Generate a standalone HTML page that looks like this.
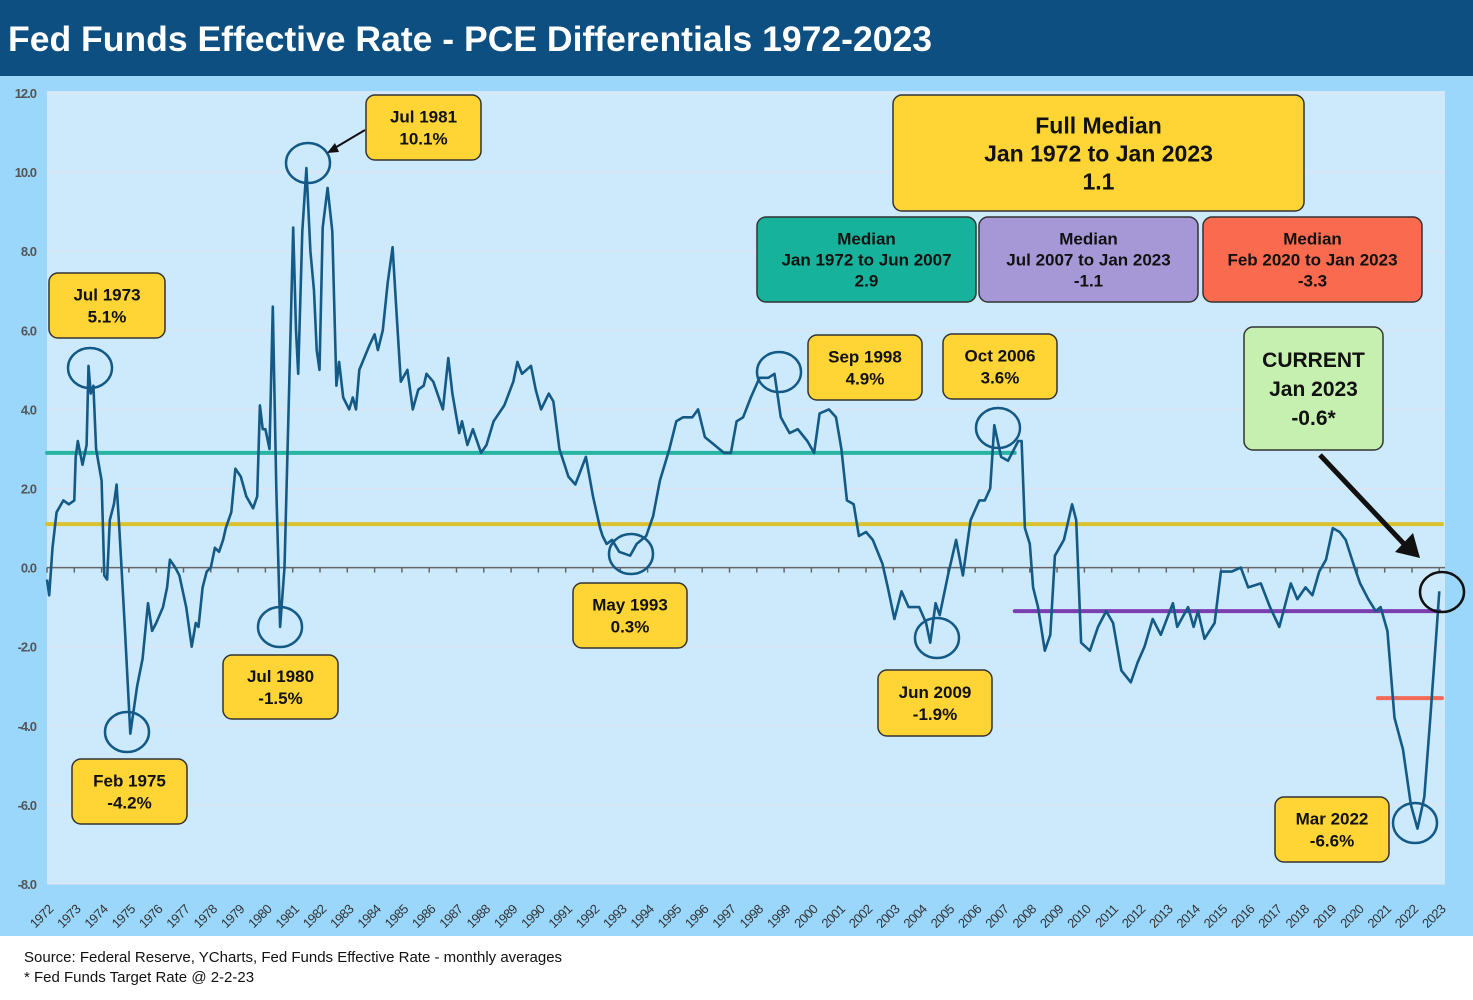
<!DOCTYPE html>
<html><head><meta charset="utf-8">
<style>
body{margin:0;width:1473px;height:1000px;overflow:hidden;background:#fff;font-family:"Liberation Sans",Arial,sans-serif;}
svg{display:block}
</style></head>
<body>
<svg id="c" width="1473" height="1000" xmlns="http://www.w3.org/2000/svg">
<rect x="0" y="0" width="1473" height="76" fill="#0d4f80"/>
<text x="8" y="51" fill="#fff" font-size="35" font-weight="bold" textLength="924" lengthAdjust="spacingAndGlyphs">Fed Funds Effective Rate - PCE Differentials 1972-2023</text>
<rect x="0" y="76" width="1473" height="860" fill="#9bd6fb"/>
<rect x="47" y="91" width="1398" height="793" fill="#cdeafc"/>
<g id="grid"></g><g id="yaxis"></g><g id="xaxis"></g><g id="medians"></g><g id="series"></g><g id="ann"></g>
<text x="24" y="962" font-size="15" fill="#111">Source: Federal Reserve, YCharts, Fed Funds Effective Rate - monthly averages</text>
<text x="24" y="982" font-size="15" fill="#111">* Fed Funds Target Rate @ 2-2-23</text>
</svg>
<script>
const yTicks=[12,10,8,6,4,2,0,-2,-4,-6,-8];
const years=[];for(let y=1972;y<=2023;y++)years.push(y);
const medianLabels=["Full","1972-2007","2007-2023","2020-2023"];
const medianValues=[1.1,2.9,-1.1,-3.3];
const medianStart=[1972,1972,2007.45,2020.75];
const medianEnd=[2023.1,2007.45,2023.0,2023.1];
const dates=[1972.0,1972.08,1972.2,1972.35,1972.6,1972.8,1973.0,1973.05,1973.13,1973.3,1973.45,1973.52,1973.6,1973.7,1973.8,1974.0,1974.1,1974.2,1974.3,1974.45,1974.55,1974.65,1974.85,1975.0,1975.05,1975.3,1975.5,1975.7,1975.85,1976.0,1976.25,1976.4,1976.5,1976.7,1976.85,1977.1,1977.3,1977.45,1977.55,1977.7,1977.85,1978.0,1978.15,1978.3,1978.45,1978.55,1978.75,1978.9,1979.1,1979.3,1979.55,1979.7,1979.8,1979.9,1980.0,1980.15,1980.27,1980.4,1980.54,1980.7,1980.85,1981.02,1981.12,1981.2,1981.35,1981.5,1981.65,1981.78,1981.88,1981.98,1982.1,1982.28,1982.45,1982.6,1982.7,1982.85,1983.07,1983.2,1983.32,1983.44,1983.62,1983.8,1984.0,1984.12,1984.3,1984.48,1984.66,1984.8,1984.96,1985.2,1985.4,1985.6,1985.8,1985.9,1986.15,1986.5,1986.7,1986.85,1987.1,1987.2,1987.4,1987.6,1987.9,1988.1,1988.36,1988.75,1989.08,1989.23,1989.4,1989.73,1989.9,1990.1,1990.38,1990.55,1990.77,1990.96,1991.1,1991.35,1991.74,1992.0,1992.26,1992.35,1992.5,1992.7,1992.96,1993.36,1993.6,1993.95,1994.2,1994.45,1994.8,1995.05,1995.3,1995.64,1995.85,1996.1,1996.45,1996.8,1997.05,1997.26,1997.5,1997.78,1998.1,1998.42,1998.65,1998.88,1999.2,1999.5,1999.85,2000.1,2000.3,2000.64,2000.9,2001.1,2001.3,2001.55,2001.74,2002.0,2002.25,2002.6,2002.8,2003.04,2003.3,2003.56,2003.95,2004.2,2004.35,2004.55,2004.7,2005.0,2005.3,2005.55,2005.83,2006.15,2006.35,2006.55,2006.7,2006.95,2007.2,2007.58,2007.7,2007.82,2008.0,2008.12,2008.3,2008.55,2008.75,2008.92,2009.25,2009.55,2009.7,2009.88,2010.2,2010.5,2010.8,2011.05,2011.35,2011.7,2011.95,2012.2,2012.5,2012.8,2013.24,2013.4,2013.8,2014.0,2014.16,2014.4,2014.77,2015.0,2015.4,2015.73,2016.0,2016.46,2016.8,2017.14,2017.56,2017.8,2018.1,2018.35,2018.6,2018.85,2019.1,2019.35,2019.57,2019.85,2020.1,2020.4,2020.67,2020.85,2021.1,2021.36,2021.67,2021.96,2022.2,2022.45,2022.68,2022.88,2023.0];
const values=[-0.3,-0.7,0.5,1.4,1.7,1.6,1.7,2.8,3.2,2.6,3.1,5.1,4.4,4.6,3.0,2.2,-0.2,-0.3,1.2,1.6,2.1,1.0,-1.5,-3.5,-4.2,-3.0,-2.3,-0.9,-1.6,-1.4,-1.0,-0.5,0.2,0.0,-0.2,-1.0,-2.0,-1.4,-1.5,-0.5,-0.1,0.0,0.5,0.4,0.7,1.0,1.4,2.5,2.3,1.8,1.5,1.8,4.1,3.5,3.5,3.0,6.6,2.0,-1.5,0.0,4.0,8.6,6.0,4.9,8.5,10.1,8.0,7.0,5.5,5.0,8.6,9.6,8.5,4.6,5.2,4.3,4.0,4.3,4.0,5.0,5.3,5.6,5.9,5.5,6.0,7.2,8.1,6.5,4.7,5.0,4.0,4.5,4.6,4.9,4.7,4.0,5.3,4.4,3.4,3.7,3.1,3.5,2.9,3.1,3.7,4.1,4.7,5.2,4.9,5.1,4.5,4.0,4.4,4.2,3.0,2.6,2.3,2.1,2.8,1.8,1.0,0.8,0.6,0.7,0.4,0.3,0.6,0.8,1.3,2.2,3.0,3.7,3.8,3.8,4.0,3.3,3.1,2.9,2.9,3.7,3.8,4.3,4.8,4.8,4.9,3.8,3.4,3.5,3.2,2.9,3.9,4.0,3.8,3.0,1.7,1.6,0.8,0.9,0.7,0.1,-0.5,-1.3,-0.6,-1.0,-1.0,-1.4,-1.9,-0.9,-1.2,-0.2,0.7,-0.2,1.2,1.7,1.7,2.0,3.6,2.8,2.7,3.2,3.2,1.0,0.6,-0.5,-1.0,-2.1,-1.7,0.3,0.7,1.6,1.2,-1.9,-2.1,-1.5,-1.1,-1.4,-2.6,-2.9,-2.4,-2.0,-1.3,-1.7,-0.9,-1.5,-1.0,-1.5,-1.1,-1.8,-1.4,-0.1,-0.1,0.0,-0.5,-0.4,-1.0,-1.5,-0.4,-0.8,-0.5,-0.7,-0.1,0.2,1.0,0.9,0.7,0.1,-0.4,-0.8,-1.1,-1.0,-1.6,-3.8,-4.6,-6.0,-6.6,-5.8,-3.7,-1.8,-0.6];

const NS="http://www.w3.org/2000/svg";
const X=t=>47+(t-1972)*27.3;
const Y=v=>567.6-v*39.55;
function mk(tag,attrs,parent,text){const e=document.createElementNS(NS,tag);for(const k in attrs)e.setAttribute(k,attrs[k]);if(text!==undefined)e.textContent=text;parent.appendChild(e);return e;}
const grid=document.getElementById('grid'),ya=document.getElementById('yaxis'),xa=document.getElementById('xaxis');
yTicks.forEach(v=>{
  if(v!==0){const g=mk('line',{x1:47,x2:1445,y1:Y(v),y2:Y(v),stroke:'#e3e3ee','stroke-width':1},grid);
  
  }
  const t=mk('text',{x:36,y:Y(v)+5,'text-anchor':'end','font-size':13,'font-weight':'bold',fill:'#555','letter-spacing':'-1'},ya,v.toFixed(1));
  
  
});
const zl=mk('line',{x1:47,x2:1445,y1:Y(0),y2:Y(0),stroke:'#666','stroke-width':1.5},xa);


years.forEach(yr=>{
  const tk=mk('line',{x1:X(yr),x2:X(yr),y1:Y(0),y2:Y(0)+5,stroke:'#666','stroke-width':1.5},xa);
  
  
  const lx=X(yr)+7,ly=910;
  const t=mk('text',{x:lx,y:ly,'text-anchor':'end','font-size':13,fill:'#333',transform:`rotate(-45 ${lx} ${ly})`,'letter-spacing':'-0.6'},xa,String(yr));
  
  
});
const medColors=['#d9c22e','#26b5a0','#7b3fb0','#f46a58'];
const md=document.getElementById('medians');
medianValues.forEach((v,i)=>{
  const l=mk('line',{x1:X(medianStart[i]),x2:X(medianEnd[i]),y1:Y(v),y2:Y(v),stroke:medColors[i],'stroke-width':4,'stroke-linecap':'round'},md);
  
  
});
const pts=dates.map((d,i)=>X(d).toFixed(1)+','+Y(values[i]).toFixed(1)).join(' ');
const pl=mk('polyline',{points:pts,fill:'none',stroke:'#145a86','stroke-width':2.6,'stroke-linejoin':'round'},document.getElementById('series'));



const ann=document.getElementById('ann');
function box(x,y,w,h,fill,lines,fs,name,lh){
  const g=mk('g',{},ann);
  
  
  mk('rect',{x,y,width:w,height:h,rx:9,fill,stroke:'#333','stroke-width':1.5},g);
  const n=lines.length;lh=lh||fs*1.3;
  lines.forEach((s,i)=>{mk('text',{x:x+w/2,y:y+h/2+(i-(n-1)/2)*lh+fs*0.36,'text-anchor':'middle','font-size':fs,'font-weight':'bold',fill:'#111'},g,s);});
}
function circ(cx,cy,name,col){const e=mk('ellipse',{cx,cy,rx:22,ry:20,fill:'none',stroke:col||'#145a86','stroke-width':2.5},ann);
  
  }
const Y2='#fed535';
box(49,273,116,65,Y2,['Jul 1973','5.1%'],17,'callout-jul-1973');
box(366,95,115,65,Y2,['Jul 1981','10.1%'],17,'callout-jul-1981');
box(223,655,115,64,Y2,['Jul 1980','-1.5%'],17,'callout-jul-1980');
box(72,759,115,65,Y2,['Feb 1975','-4.2%'],17,'callout-feb-1975');
box(573,583,114,65,Y2,['May 1993','0.3%'],17,'callout-may-1993');
box(808,335,114,65,Y2,['Sep 1998','4.9%'],17,'callout-sep-1998');
box(943,334,114,65,Y2,['Oct 2006','3.6%'],17,'callout-oct-2006');
box(878,670,114,66,Y2,['Jun 2009','-1.9%'],17,'callout-jun-2009');
box(1275,797,114,65,Y2,['Mar 2022','-6.6%'],17,'callout-mar-2022');
box(893,95,411,116,Y2,['Full Median','Jan 1972 to Jan 2023','1.1'],23,'full-median-box',28);
box(757,217,219,85,'#17b29b',['Median','Jan 1972 to Jun 2007','2.9'],17,'median-1972-2007-box',21);
box(979,217,219,85,'#a698d6',['Median','Jul 2007 to Jan 2023','-1.1'],17,'median-2007-2023-box',21);
box(1203,217,219,85,'#fa6a4e',['Median','Feb 2020 to Jan 2023','-3.3'],17,'median-2020-2023-box',21);
box(1244,327,139,123,'#c6f0b0',['CURRENT','Jan 2023','-0.6*'],21,'current-box',29);
circ(90,368,'circle-jul-1973');circ(308,163,'circle-jul-1981');circ(280,627,'circle-jul-1980');
circ(127,732,'circle-feb-1975');circ(631,554,'circle-may-1993');circ(779,372,'circle-sep-1998');
circ(998,428,'circle-oct-2006');circ(937,638,'circle-jun-2009');circ(1415,823,'circle-mar-2022');
circ(1442,592,'circle-current','#111');
const a1=mk('line',{x1:365,y1:130,x2:333,y2:149,stroke:'#111','stroke-width':2},ann);


const h1=mk('polygon',{points:'327,153 335,143 339,152',fill:'#111'},ann);


const a2=mk('line',{x1:1320,y1:455,x2:1405,y2:545,stroke:'#111','stroke-width':5},ann);


const h2=mk('polygon',{points:'1420,558 1395,552 1413,533',fill:'#111'},ann);


</script>
</body></html>
